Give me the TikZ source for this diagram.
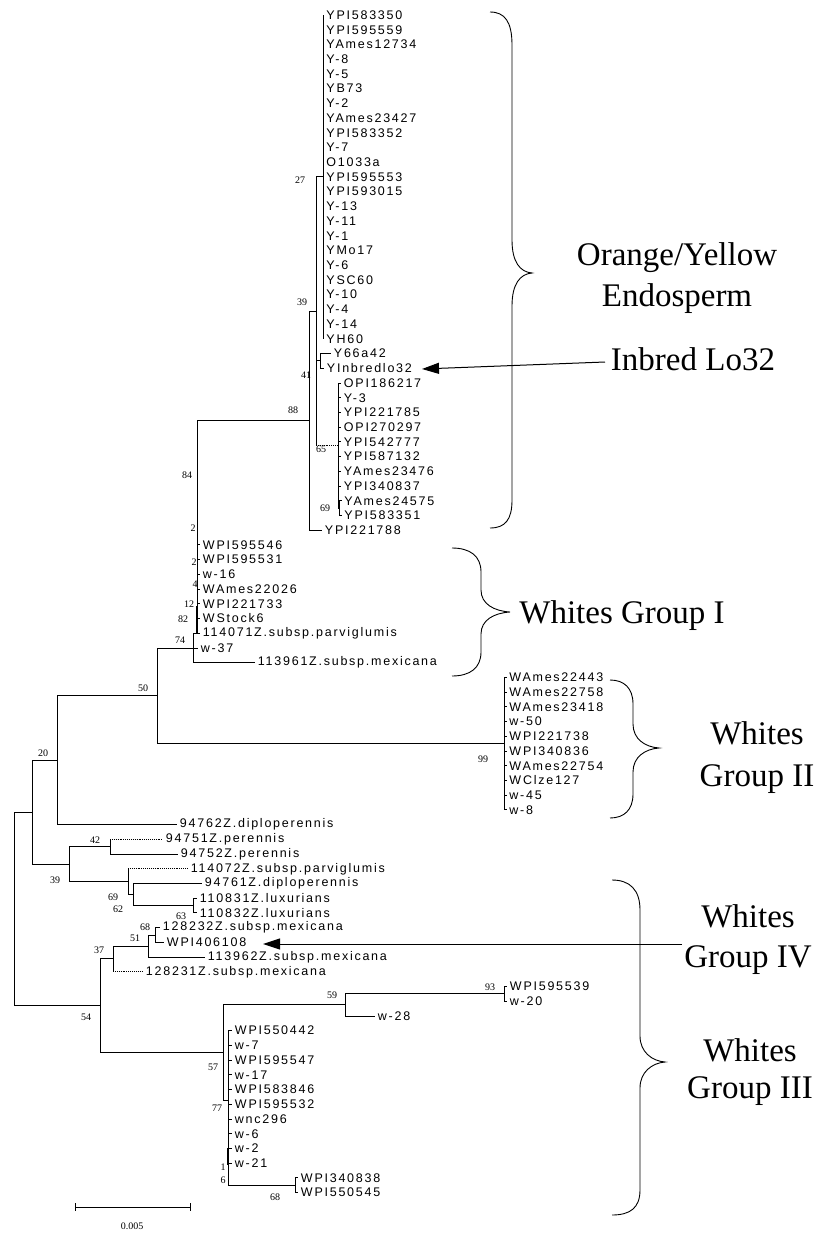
\documentclass[tikz,border=0pt]{standalone}
\usepackage{fontspec}
\setmainfont{Liberation Serif}
\newfontfamily\tipfont[LetterSpace=14]{Liberation Sans}
\usetikzlibrary{arrows.meta}
\newcommand\tipleaf[4]{\coordinate (#1) at (#2,{15+14.72*#3}); \node[tiplab] (#1L) at (#1) {#4};}
\newcommand\bsl[4]{\node[bslab] (#1) at (#2,#3) {#4};}
\begin{document}
\begin{tikzpicture}[x=1pt,y=-1pt,line width=0.9pt,
  tiplab/.style={anchor=west,inner sep=0pt,xshift=2.5pt,font=\tipfont\fontsize{12.5}{13}\selectfont},
  bslab/.style={inner sep=0pt,font=\fontsize{10}{10}\selectfont},
  big/.style={inner sep=0pt,anchor=base,font=\fontsize{33}{36}\selectfont},
  dotedge/.style={densely dotted},
  brace/.style={line width=0.9pt},
  pointer/.style={line width=1pt,-{Triangle[length=17pt,width=11pt]}}]
\fill[white] (0,0) rectangle (818,1236);
\useasboundingbox (0,0) rectangle (818,1236);
% ---------- internal nodes ----------
\coordinate (nY27) at (323,176.92);
\coordinate (nY66) at (320,360.92);
\coordinate (nOPI) at (338,445.56);
\coordinate (nO69) at (339.5,508.12);
\coordinate (nA39) at (316,311.24);
\coordinate (n88) at (309,420.72);
\coordinate (nW) at (197,633.24);
\coordinate (n74) at (193,647.96);
\coordinate (n50) at (157,695.8);
\coordinate (nG2) at (504,743.64);
\coordinate (n20) at (57,760.2);
\coordinate (n42) at (110,846.68);
\coordinate (nLux) at (193,905.56);
\coordinate (n133) at (133,894.52);
\coordinate (n128) at (128,881.64);
\coordinate (n39b) at (69,864.16);
\coordinate (n32) at (32,812.18);
\coordinate (n68a) at (155,935);
\coordinate (n51) at (148,946.04);
\coordinate (n37) at (113,958.92);
\coordinate (n93) at (504,993.88);
\coordinate (n59) at (345,1004.92);
\coordinate (n68b) at (295,1185.24);
\coordinate (n77) at (228,1100);
\coordinate (n57) at (223,1052.46);
\coordinate (n54) at (100,1005.69);
\coordinate (root) at (14,908.94);
% ---------- tips ----------
\tipleaf{t0}{323.5}{0}{YPI583350}
\tipleaf{t1}{323.5}{1}{YPI595559}
\tipleaf{t2}{323.5}{2}{YAmes12734}
\tipleaf{t3}{323.5}{3}{Y-8}
\tipleaf{t4}{323.5}{4}{Y-5}
\tipleaf{t5}{323.5}{5}{YB73}
\tipleaf{t6}{323.5}{6}{Y-2}
\tipleaf{t7}{323.5}{7}{YAmes23427}
\tipleaf{t8}{323.5}{8}{YPI583352}
\tipleaf{t9}{323.5}{9}{Y-7}
\tipleaf{t10}{323.5}{10}{O1033a}
\tipleaf{t11}{323.5}{11}{YPI595553}
\tipleaf{t12}{323.5}{12}{YPI593015}
\tipleaf{t13}{323.5}{13}{Y-13}
\tipleaf{t14}{323.5}{14}{Y-11}
\tipleaf{t15}{323.5}{15}{Y-1}
\tipleaf{t16}{323.5}{16}{YMo17}
\tipleaf{t17}{323.5}{17}{Y-6}
\tipleaf{t18}{323.5}{18}{YSC60}
\tipleaf{t19}{323.5}{19}{Y-10}
\tipleaf{t20}{323.5}{20}{Y-4}
\tipleaf{t21}{323.5}{21}{Y-14}
\tipleaf{t22}{323.5}{22}{YH60}
\tipleaf{t23}{331}{23}{Y66a42}
\tipleaf{t24}{324}{24}{YInbredlo32}
\tipleaf{t25}{341}{25}{OPI186217}
\tipleaf{t26}{341}{26}{Y-3}
\tipleaf{t27}{341}{27}{YPI221785}
\tipleaf{t28}{341}{28}{OPI270297}
\tipleaf{t29}{341}{29}{YPI542777}
\tipleaf{t30}{341}{30}{YPI587132}
\tipleaf{t31}{341}{31}{YAmes23476}
\tipleaf{t32}{341}{32}{YPI340837}
\tipleaf{t33}{341.5}{33}{YAmes24575}
\tipleaf{t34}{341.5}{34}{YPI583351}
\tipleaf{t35}{322}{35}{YPI221788}
\tipleaf{t36}{200}{36}{WPI595546}
\tipleaf{t37}{200}{37}{WPI595531}
\tipleaf{t38}{200}{38}{w-16}
\tipleaf{t39}{200}{39}{WAmes22026}
\tipleaf{t40}{200}{40}{WPI221733}
\tipleaf{t41}{200}{41}{WStock6}
\tipleaf{t42}{200}{42}{114071Z.subsp.parviglumis}
\tipleaf{t43}{198}{43}{w-37}
\tipleaf{t44}{255}{44}{113961Z.subsp.mexicana}
\tipleaf{t45}{506.5}{45}{WAmes22443}
\tipleaf{t46}{506.5}{46}{WAmes22758}
\tipleaf{t47}{506.5}{47}{WAmes23418}
\tipleaf{t48}{506.5}{48}{w-50}
\tipleaf{t49}{506.5}{49}{WPI221738}
\tipleaf{t50}{506.5}{50}{WPI340836}
\tipleaf{t51}{506.5}{51}{WAmes22754}
\tipleaf{t52}{506.5}{52}{WClze127}
\tipleaf{t53}{506.5}{53}{w-45}
\tipleaf{t54}{506.5}{54}{w-8}
\tipleaf{t55}{177}{55}{94762Z.diploperennis}
\tipleaf{t56}{163}{56}{94751Z.perennis}
\tipleaf{t57}{178}{57}{94752Z.perennis}
\tipleaf{t58}{188}{58}{114072Z.subsp.parviglumis}
\tipleaf{t59}{202}{59}{94761Z.diploperennis}
\tipleaf{t60}{197}{60}{110831Z.luxurians}
\tipleaf{t61}{197}{61}{110832Z.luxurians}
\tipleaf{t62}{160}{62}{128232Z.subsp.mexicana}
\tipleaf{t63}{164}{63}{WPI406108}
\tipleaf{t64}{205}{64}{113962Z.subsp.mexicana}
\tipleaf{t65}{143}{65}{128231Z.subsp.mexicana}
\tipleaf{t66}{507}{66}{WPI595539}
\tipleaf{t67}{507}{67}{w-20}
\tipleaf{t68}{375}{68}{w-28}
\tipleaf{t69}{232}{69}{WPI550442}
\tipleaf{t70}{232}{70}{w-7}
\tipleaf{t71}{232}{71}{WPI595547}
\tipleaf{t72}{232}{72}{w-17}
\tipleaf{t73}{232}{73}{WPI583846}
\tipleaf{t74}{232}{74}{WPI595532}
\tipleaf{t75}{232}{75}{wnc296}
\tipleaf{t76}{232}{76}{w-6}
\tipleaf{t77}{232}{77}{w-2}
\tipleaf{t78}{232}{78}{w-21}
\tipleaf{t79}{298}{79}{WPI340838}
\tipleaf{t80}{298}{80}{WPI550545}
% ---------- branches ----------
\draw (root) |- (n32); \draw (root) |- (n54);
\draw (n32) |- (n20); \draw (n32) |- (n39b);
\draw (n20) |- (n50); \draw (n20) |- (t55);
\draw (n50) |- (n74); \draw (n50) |- (nG2);
\draw (n74) |- (nW); \draw (n74) |- (t43); \draw (n74) |- (t44);
\draw (nW) |- (n88);
\foreach \i in {36,...,42} \draw (nW) |- (t\i);
\draw[line width=1.8pt] (197,606) -- (nW);
\draw (n88) |- (nA39); \draw (n88) |- (t35);
\draw (nA39) |- (nY27); \draw (nA39) |- (nY66);
\draw (nA39) -- (nA39 |- nOPI); \draw[dotedge] (nA39 |- nOPI) -- (nOPI);
\foreach \i in {0,...,22} \draw (nY27) |- (t\i);
\draw (nY66) |- (t23); \draw (nY66) |- (t24);
\foreach \i in {25,...,32} \draw (nOPI) |- (t\i);
\draw (nOPI) |- (nO69);
\draw (nO69) |- (t33); \draw (nO69) |- (t34);
\foreach \i in {45,...,54} \draw (nG2) |- (t\i);
\draw (n39b) |- (n42); \draw (n39b) |- (n128);
\draw (n42) -- (n42 |- t56); \draw[dotedge] (n42 |- t56) -- (t56);
\draw (n42) |- (t57);
\draw (n128) -- (n128 |- t58); \draw[dotedge] (n128 |- t58) -- (t58);
\draw (n128) |- (n133);
\draw (n133) |- (t59); \draw (n133) |- (nLux);
\draw (nLux) |- (t60); \draw (nLux) |- (t61);
\draw (n54) |- (n37); \draw (n54) |- (n57);
\draw (n37) |- (n51);
\draw (n37) -- (n37 |- t65); \draw[dotedge] (n37 |- t65) -- (t65);
\draw (n51) |- (n68a); \draw (n51) |- (t64);
\draw (n68a) |- (t62); \draw (n68a) |- (t63);
\draw (n57) |- (n59); \draw (n57) |- (n77);
\draw (n59) |- (n93); \draw (n59) |- (t68);
\draw (n93) |- (t66); \draw (n93) |- (t67);
\foreach \i in {69,...,78} \draw (n77) |- (t\i);
\draw[line width=1.8pt] (228,1148) -- (228,1165);
\draw (n77) |- (n68b);
\draw (n68b) |- (t79); \draw (n68b) |- (t80);
% ---------- bootstrap values ----------
\bsl{b1}{300}{180}{27}
\bsl{b2}{302}{302}{39}
\bsl{b3}{306}{375}{41}
\bsl{b4}{293}{410}{88}
\bsl{b5}{321}{449}{65}
\bsl{b6}{325}{508}{69}
\bsl{b7}{187}{475}{84}
\bsl{b8}{193}{528}{2}
\bsl{b9}{194}{562}{2}
\bsl{b10}{195}{584}{4}
\bsl{b11}{189}{604}{12}
\bsl{b12}{183}{619}{82}
\bsl{b13}{180}{640}{74}
\bsl{b14}{143}{688}{50}
\bsl{b15}{483}{759}{99}
\bsl{b16}{43}{753}{20}
\bsl{b17}{95}{840}{42}
\bsl{b18}{55}{880}{39}
\bsl{b19}{113}{897}{69}
\bsl{b20}{118}{909}{62}
\bsl{b21}{181}{916}{63}
\bsl{b22}{145}{927}{68}
\bsl{b23}{135}{938}{51}
\bsl{b24}{99}{950}{37}
\bsl{b25}{86}{1017}{54}
\bsl{b26}{332}{995}{59}
\bsl{b27}{490}{987}{93}
\bsl{b28}{213}{1067}{57}
\bsl{b29}{217}{1108}{77}
\bsl{b30}{223}{1167}{1}
\bsl{b31}{223}{1180}{6}
\bsl{b32}{275}{1197}{68}
% ---------- braces ----------
\draw[brace] (490,12) .. controls (505,12) and (512,22) .. (512,45) -- (512,240)
  .. controls (512,262) and (520,272) .. (532,273)
  .. controls (520,274) and (512,284) .. (512,306) -- (512,500)
  .. controls (512,520) and (505,528) .. (490,528);
\draw[brace] (452,548) .. controls (470,548) and (481,556) .. (481,572) -- (481,590)
  .. controls (481,604) and (494,611) .. (510,612)
  .. controls (494,613) and (481,620) .. (481,634) -- (481,652)
  .. controls (481,668) and (470,676) .. (452,676);
\draw[brace] (610,680) .. controls (624,680) and (633,688) .. (633,704) -- (633,724)
  .. controls (633,739) and (645,747) .. (659,748)
  .. controls (645,749) and (633,757) .. (633,772) -- (633,794)
  .. controls (633,810) and (624,818) .. (610,818);
\draw[brace] (612,880) .. controls (630,880) and (640,890) .. (640,910) -- (640,1036)
  .. controls (640,1052) and (652,1061) .. (665,1062)
  .. controls (652,1063) and (640,1072) .. (640,1088) -- (640,1190)
  .. controls (640,1208) and (630,1215) .. (612,1215);
% ---------- group labels ----------
\node[big] (oy1) at (677,265) {Orange/Yellow};
\node[big] (oy2) at (677,306) {Endosperm};
\node[big] (lo32) at (693,370) {Inbred Lo32};
\node[big] (wg1) at (622,623) {Whites Group I};
\node[big] (wg2a) at (757,744) {Whites};
\node[big] (wg2b) at (757,786) {Group II};
\node[big] (wg4a) at (748,927) {Whites};
\node[big] (wg4b) at (748,967) {Group IV};
\node[big] (wg3a) at (750,1061) {Whites};
\node[big] (wg3b) at (750,1098) {Group III};
% ---------- pointers ----------
\coordinate (p1s) at (605,362);
\coordinate (p1e) at (422,369);
\draw[pointer] (p1s) -- (p1e);
\coordinate (p2s) at (682,944);
\coordinate (p2e) at (263,944);
\draw[pointer] (p2s) -- (p2e);
% ---------- scale bar ----------
\coordinate (sbL) at (75,1207);
\coordinate (sbR) at (190,1207);
\draw (sbL) -- (sbR);
\draw ([yshift=4pt]sbL) -- ([yshift=-4pt]sbL);
\draw ([yshift=4pt]sbR) -- ([yshift=-4pt]sbR);
\node[bslab] (sblab) at (132,1226) {0.005};
\end{tikzpicture}
\end{document}
